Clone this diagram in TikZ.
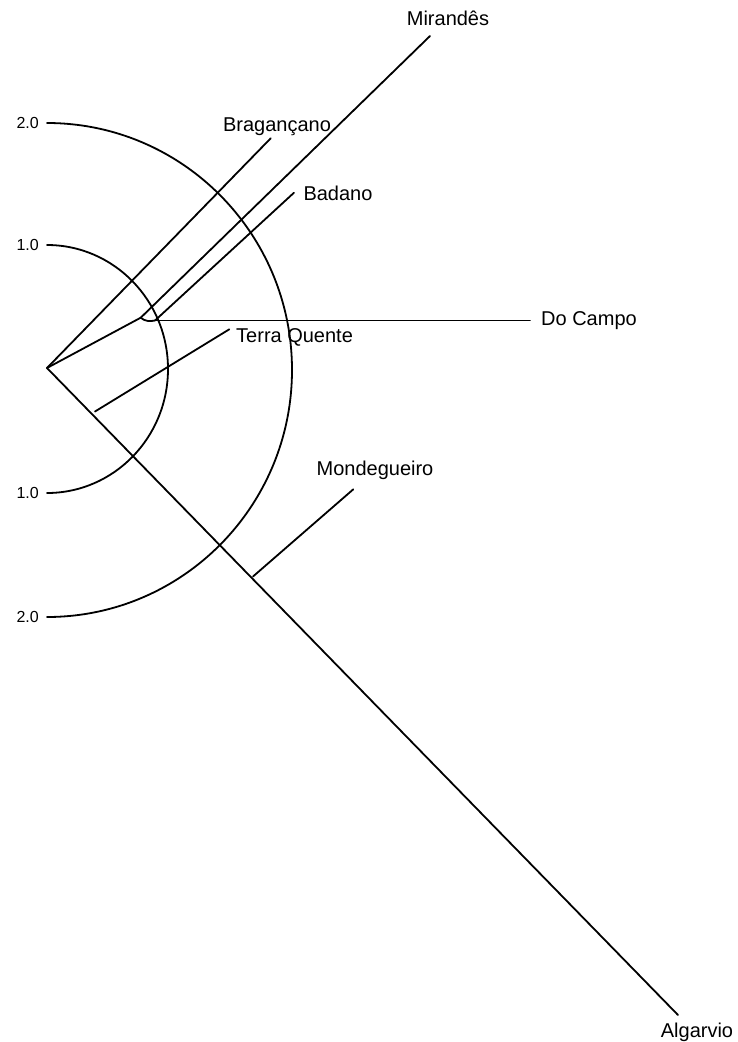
\documentclass[tikz,border=0pt]{standalone}
\usepackage{fontspec}
\setmainfont{Liberation Sans}
\begin{document}
\begin{tikzpicture}[x=1pt,y=-1pt,
  edge/.style={line width=1.8pt,line cap=round},
  leaf/.style={font=\fontsize{20}{24}\selectfont,inner sep=0pt},
  ticklabel/.style={font=\fontsize{16}{19}\selectfont,inner sep=0pt,anchor=east}]
\useasboundingbox (0,0) rectangle (738,1042);
% internal nodes
\coordinate (root) at (47,368);
\coordinate (A) at (140.7,317.7);
\coordinate (B) at (155,320.5);
\coordinate (T) at (95,411.5);
\coordinate (M) at (253,576.5);
% leaf tips
\coordinate (mir) at (430,36);
\coordinate (bra) at (270.7,138.3);
\coordinate (bad) at (294,192.7);
\coordinate (doc) at (530,320.5);
\coordinate (ter) at (229.3,329.3);
\coordinate (mon) at (353.3,489.3);
\coordinate (alg) at (678,1015);
% scale arcs
\draw[edge] (47,123) arc[start angle=90,end angle=-90,x radius=245pt,y radius=247pt];
\draw[edge] (47,245) arc[start angle=90,end angle=-90,x radius=121pt,y radius=124pt];
\node[ticklabel] (s2a) at (39,123) {2.0};
\node[ticklabel] (s1a) at (39,245) {1.0};
\node[ticklabel] (s1b) at (39,493) {1.0};
\node[ticklabel] (s2b) at (39,617) {2.0};
% tree
\draw[edge] (root) -- (bra);
\draw[edge] (root) -- (A);
\draw[edge] (A) -- (mir);
\draw[edge] (A) .. controls (145,321.5) and (150,321.5) .. (B);
\draw[edge] (B) -- (bad);
\draw[edge] (B) -- (doc);
\draw[edge] (root) -- (alg);
\draw[edge] (T) -- (ter);
\draw[edge] (M) -- (mon);
% labels
\node[leaf] (lmir) at (448,18) {Mirandês};
\node[leaf] (lbra) at (277,127) {Bragançano};
\node[leaf] (lbad) at (338,193) {Badano};
\node[leaf,anchor=west] (ldoc) at (541,321) {Do Campo};
\node[leaf,anchor=west] (lter) at (236,337) {Terra Quente};
\node[leaf] (lmon) at (375,470) {Mondegueiro};
\node[leaf] (lalg) at (697,1032) {Algarvio};
\end{tikzpicture}
\end{document}
